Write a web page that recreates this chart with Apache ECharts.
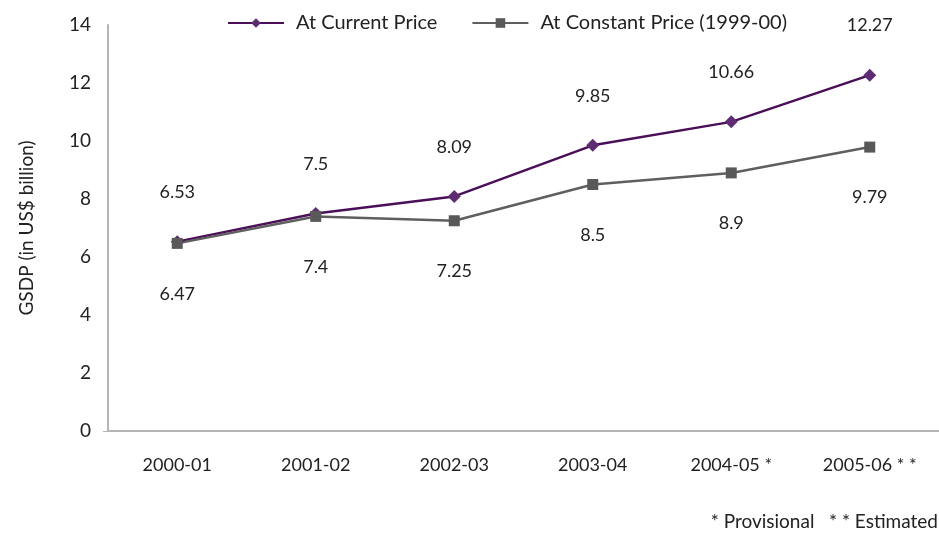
<!DOCTYPE html>
<html>
    <head>
        <meta charset="UTF-8">
        <script src="https://cdn.jsdelivr.net/npm/echarts@6/dist/echarts.min.js"></script>
        <style>
            html, body { margin: 0; padding: 0; background: #fff; }
        </style>
    </head>
    <body>
        <div id="main" style="width:939px;height:533px"></div>
        <script type="text/javascript">
            var years = ['2000-01', '2001-02', '2002-03', '2003-04', '2004-05 *', '2005-06 * *'];
            var currentPrice = [6.53, 7.5, 8.09, 9.85, 10.66, 12.27];
            var constantPrice = [6.47, 7.4, 7.25, 8.5, 8.9, 9.79];
            var yTicks = [0, 2, 4, 6, 8, 10, 12, 14];

            var fontFam = 'Lato, "Open Sans", sans-serif';
            var chart = echarts.init(document.getElementById('main'));

            var option = {
                animation: false,
                textStyle: { fontFamily: fontFam, color: '#222' },
                legend: {
                    top: 8,
                    left: 222,
                    itemWidth: 56,
                    itemHeight: 12,
                    itemGap: 34,
                    textStyle: { fontSize: 20, color: '#222', fontFamily: fontFam, padding: [0, 0, 0, 7] },
                    data: ['At Current Price', 'At Constant Price (1999-00)']
                },
                grid: { left: 108, right: 0, top: 25, bottom: 102, containLabel: false },
                xAxis: {
                    type: 'category',
                    data: years,
                    boundaryGap: true,
                    axisLine: { lineStyle: { color: '#b5b5b5', width: 2 } },
                    axisTick: { show: false },
                    axisLabel: { fontSize: 18, color: '#222', margin: 25 }
                },
                yAxis: {
                    type: 'value',
                    min: yTicks[0],
                    max: yTicks[yTicks.length - 1],
                    interval: 2,
                    name: 'GSDP (in US$ billion)',
                    nameLocation: 'middle',
                    nameGap: 72,
                    nameTextStyle: { fontSize: 19, color: '#222' },
                    axisLine: { show: true, lineStyle: { color: '#b5b5b5', width: 2 } },
                    axisTick: { show: true, length: 5, lineStyle: { color: '#b5b5b5' }, customValues: [0] },
                    splitLine: { show: false },
                    axisLabel: { fontSize: 19, color: '#222', margin: 17 }
                },
                series: [
                    {
                        name: 'At Current Price',
                        type: 'line',
                        data: currentPrice,
                        symbol: 'diamond',
                        symbolSize: 13,
                        lineStyle: { color: '#4a0f58', width: 2.5 },
                        itemStyle: { color: '#5e2c73' },
                        label: {
                            show: true,
                            position: 'top',
                            distance: 34,
                            fontSize: 18,
                            color: '#222'
                        }
                    },
                    {
                        name: 'At Constant Price (1999-00)',
                        type: 'line',
                        data: constantPrice,
                        symbol: 'rect',
                        symbolSize: 11,
                        lineStyle: { color: '#5f5f5f', width: 2.5 },
                        itemStyle: { color: '#595959' },
                        label: {
                            show: true,
                            position: 'bottom',
                            distance: 36,
                            fontSize: 18,
                            color: '#222'
                        }
                    }
                ],
                graphic: [
                    {
                        type: 'text',
                        right: 1,
                        top: 512,
                        style: {
                            text: '* Provisional   * * Estimated',
                            fontSize: 19,
                            fontFamily: fontFam,
                            fill: '#222'
                        }
                    }
                ]
            };

            option && chart.setOption(option);
        </script>
    </body>
</html>
